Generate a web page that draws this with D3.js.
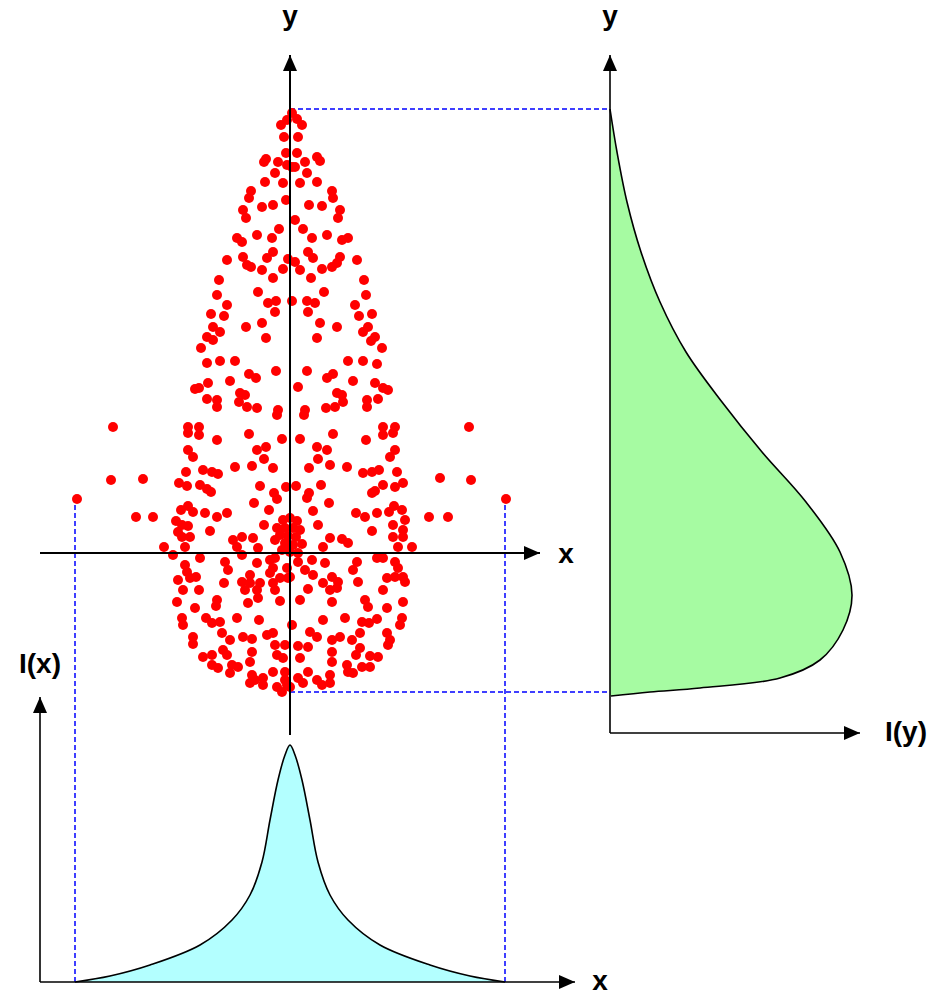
<!DOCTYPE html>
<html>
<head>
<meta charset="utf-8">
<script src="https://cdn.jsdelivr.net/npm/d3@7"></script>
<style>
  body { margin: 0; background: #fff; }
  text { font-family: "Liberation Sans", Arial, sans-serif; font-weight: bold; font-size: 28px; fill: #000; }
</style>
</head>
<body>
<svg id="chart" width="936" height="995"></svg>
<script>
// Scattered particle positions (x, y) in sample units
const dots = [
  [2,579],[7,573],[-3,572],[-9,567],[12,567],[-6,555],[8,555],[-4,539],[7,539],
  [-24,533],[-26,530],[27,535],[30,531],[-12,530],[15,530],[-3,527],[2,525],[5,525],
  [-15,519],[17,519],[-25,510],[-7,509],[10,509],[27,510],[-39,501],[-41,494],[42,501],[43,494],
  [-4,492],[-28,485],[-17,487],[19,487],[32,486],[-47,482],[-44,474],[50,482],[48,474],[5,472],
  [-11,463],[13,463],[-33,457],[37,457],[-53,454],[-48,450],[-18,454],[22,454],[52,452],[58,454],
  [-17,440],[18,440],[-63,432],[-47,435],[-23,434],[-2,433],[23,434],[50,435],[67,432],
  [-43,427],[-39,425],[-28,422],[-7,423],[5,430],[10,422],[32,423],[42,425],[47,429],
  [-17,414],[21,414],[-71,412],[74,412],[-32,400],[34,400],[-73,397],[76,397],
  [-63,387],[-22,389],[-14,391],[2,391],[17,391],[25,389],[65,387],
  [-79,378],[-66,376],[-15,380],[18,380],[69,376],[82,378],
  [-44,365],[-28,369],[-77,365],[-70,360],[30,369],[47,365],[78,365],[73,360],
  [-83,355],[-77,352],[-24,354],[27,354],[85,355],[81,351],[-89,344],[92,344],
  [-83,329],[-70,331],[-55,331],[58,331],[73,331],[87,328],
  [-41,318],[-34,314],[-14,321],[17,321],[37,314],[43,318],
  [-82,309],[-60,311],[63,311],[85,309],
  [-95,303],[-91,304],[-50,299],[-45,297],[8,305],[47,299],[52,297],[93,304],[98,302],
  [-83,293],[-73,292],[-51,290],[-73,285],[-43,285],[-33,284],[36,284],[45,285],[53,290],
  [77,292],[88,293],[77,285],[-12,282],[15,282],
  [-177,265],[-179,212],[-147,213],[-213,193],
  [-102,265],[-102,259],[-91,265],[-91,257],[-73,252],[-102,242],[-97,235],
  [-104,220],[-87,222],[-78,220],[-72,218],[-55,225],[-38,226],[-41,258],[-33,242],
  [-111,209],[-103,206],[-90,207],[-83,203],[-79,200],[-36,189],
  [-154,175],[-137,175],[-109,182],[-102,186],[-97,180],[-85,179],[-73,175],[-63,179],
  [-114,171],[-108,167],[-102,166],[-112,160],[-108,155],[-100,155],[-80,161],
  [-126,145],[-105,145],[-57,152],[-48,155],[-37,154],[-53,145],
  [-13,277],[14,277],[179,265],[93,265],[105,265],[93,257],[103,259],
  [-8,253],[10,253],[43,258],[76,252],[-24,245],[27,245],[37,242],[105,242],[100,235],
  [-26,233],[28,233],[-17,224],[19,224],[40,227],[57,225],[73,219],[82,220],[89,222],[107,220],
  [150,214],[181,212],
  [-30,206],[-4,205],[6,206],[31,207],[-16,199],[-13,193],[19,199],[17,194],
  [93,207],[85,201],[82,199],[105,205],[113,209],[216,193],
  [-21,182],[23,181],[39,189],[66,179],[75,175],[87,179],[99,180],[104,186],[112,182],
  [139,175],[158,175],
  [-26,167],[-13,164],[28,167],[82,161],[103,167],[115,172],[113,162],
  [40,154],[52,153],[58,149],[103,155],[113,155],[108,145],[122,145],
  [-7,172],[0,174],[7,171],[-5,164],[3,164],[10,162],[-10,157],[-2,156],[6,155],
  [-15,152],[-5,149],[3,147],[12,148],[0,140],[-8,142],[8,139],
  [-117,137],[-90,134],[-65,130],[-48,137],[-32,144],[-33,129],[-20,132],[-15,134],
  [-105,127],[-103,120],[-62,122],[-17,124],[-40,117],
  [-112,112],[-100,114],[-94,115],[-66,109],[-48,110],[-40,109],[-30,109],[-20,119],[-10,114],[-17,109],
  [-107,102],[-91,102],[-45,102],[-33,102],[-15,102],[-2,114],
  [-113,90],[-95,84],[-73,92],[-74,86],[-42,89],[-32,94],[-10,91],
  [-108,74],[-107,67],[-84,74],[-78,69],[-70,70],[-53,74],[-31,72],[2,67],
  [-97,55],[-97,48],[-68,59],[-60,52],[-47,55],[-38,53],[-23,57],[-17,59],[-15,47],[-5,47],
  [-87,35],[-78,37],[-67,42],[-63,37],[-38,40],[-40,30],[-13,37],
  [-78,27],[-72,24],[-58,27],[-52,25],[-60,19],[-17,20],[-5,20],
  [-38,17],[-35,12],[-27,14],[-40,9],[-27,7],[-13,5],[0,5],[-8,0],[-5,12],
  [0,145],[33,145],
  [8,130],[22,132],[35,129],[67,130],[87,134],[93,134],[105,130],[108,124],
  [-3,124],[15,122],[23,117],[42,115],[63,122],[0,115],
  [33,109],[48,110],[68,110],[97,114],[105,115],[113,115],[115,110],
  [18,103],[40,102],[47,104],[93,102],
  [10,92],[42,90],[75,92],[78,85],[97,84],[113,90],
  [33,72],[55,74],[72,70],[79,69],[87,73],[112,74],[110,67],
  [20,60],[27,55],[50,55],[42,52],[62,52],[70,59],[97,59],[100,52],[98,47],
  [8,46],[18,45],[42,40],[70,44],[66,37],[80,36],[88,35],[10,34],[-7,34],
  [42,30],[57,27],[72,25],[80,25],[18,20],[58,20],[63,19],
  [8,14],[27,12],[40,17],[13,9],[32,7],[40,9],[-3,7]
];

// Horizontal intensity profile I(x)
const profileXPos = [-215,-180,-140,-90,-58,-40,-28,-20,-12,-5,0,5,12,20,28,40,58,90,140,180,215];
const profileXInt = [0,6,17,37,62,87,120,162,202,227,237,227,202,162,120,87,62,37,17,6,0];

// Vertical intensity profile I(y)
const profileYPos = [583,540,490,440,390,340,290,240,190,140,97,62,32,14,4,0,-4];
const profileYInt = [0,7,17,31,50,76,112,152,196,230,242,233,210,170,90,40,1];

// Axis labels
const labels = { sx: "x", sy: "y", ry: "y", rx: "I(y)", by: "I(x)", bx: "x" };

const svg = d3.select("#chart");

// Shared scales
const x = d3.scaleLinear().domain([-216, 216]).range([74, 506]);
const y = d3.scaleLinear().domain([0, 583]).range([692, 109]);
const iy = d3.scaleLinear().domain([0, 250]).range([610, 860]);  // right panel intensity
const ix = d3.scaleLinear().domain([0, 285]).range([982, 697]);  // bottom panel intensity

const defs = svg.append("defs");
defs.append("filter").attr("id", "soft")
  .append("feGaussianBlur").attr("stdDeviation", 0.55);

// Arrow drawn as a line with a filled triangular head at (x2, y2)
function arrow(x1, y1, x2, y2, w) {
  svg.append("line")
    .attr("x1", x1).attr("y1", y1).attr("x2", x2).attr("y2", y2)
    .attr("stroke", "#000").attr("stroke-width", w);
  const ang = Math.atan2(y2 - y1, x2 - x1);
  const L = 16, H = 7;
  const bx = x2 - L * Math.cos(ang), by = y2 - L * Math.sin(ang);
  const px = -Math.sin(ang) * H, py = Math.cos(ang) * H;
  svg.append("path")
    .attr("d", `M${x2},${y2}L${bx + px},${by + py}L${bx - px},${by - py}Z`)
    .attr("fill", "#000");
}

// Profile areas
const curve = d3.curveCatmullRom.alpha(0.5);
const areaX = d3.area()
  .x((d, i) => x(profileXPos[i]))
  .y0(ix(0))
  .y1((d, i) => ix(profileXInt[i]))
  .curve(curve);
svg.append("path").attr("d", areaX(profileXPos))
  .attr("fill", "#b3ffff").attr("stroke", "none");
svg.append("path")
  .attr("d", d3.line().x((d, i) => x(profileXPos[i])).y((d, i) => ix(profileXInt[i])).curve(curve)(profileXPos))
  .attr("fill", "none").attr("stroke", "#000").attr("stroke-width", 1.6);

const areaY = d3.area()
  .y((d, i) => y(profileYPos[i]))
  .x0(iy(0))
  .x1((d, i) => iy(profileYInt[i]))
  .curve(curve);
svg.append("path").attr("d", areaY(profileYPos))
  .attr("fill", "#a6fba2").attr("stroke", "none");
svg.append("path")
  .attr("d", d3.line().y((d, i) => y(profileYPos[i])).x((d, i) => iy(profileYInt[i])).curve(curve)(profileYPos))
  .attr("fill", "none").attr("stroke", "#000").attr("stroke-width", 1.6);

// Blue dashed projection guides
const guide = (x1, y1, x2, y2) => svg.append("line")
  .attr("x1", x1).attr("y1", y1).attr("x2", x2).attr("y2", y2)
  .attr("stroke", "#0000ff").attr("stroke-width", 1.5).attr("stroke-dasharray", "5,3");
guide(x(0), y(583), iy(0), y(583));
guide(x(0), y(0), iy(0), y(0));
guide(x(-215), y(187), x(-215), ix(0));
guide(x(215), y(187), x(215), ix(0));

// Scatter points
svg.append("g").attr("filter", "url(#soft)")
  .selectAll("circle").data(dots).join("circle")
  .attr("cx", d => x(d[0])).attr("cy", d => y(d[1]))
  .attr("r", 5).attr("fill", "#ff0000");

// Scatter axes
arrow(x(-250), y(139), x(250), y(139), 2);
arrow(x(0), y(-43), x(0), y(637), 2);
svg.append("text").attr("x", x(250) + 26).attr("y", y(139) + 10).attr("text-anchor", "middle").text(labels.sx);
svg.append("text").attr("x", x(0)).attr("y", 25).attr("text-anchor", "middle").text(labels.sy);

// Right panel axes
arrow(iy(0), y(-41), iy(0), y(637), 1.6);
arrow(iy(0), y(-41), iy(250), y(-41), 1.6);
svg.append("text").attr("x", iy(0)).attr("y", 25).attr("text-anchor", "middle").text(labels.ry);
svg.append("text").attr("x", iy(250) + 46).attr("y", y(-41) + 8).attr("text-anchor", "middle").text(labels.rx);

// Bottom panel axes
arrow(x(-250), ix(0), x(-250), ix(285), 1.6);
arrow(x(-250), ix(0), x(285), ix(0), 1.6);
svg.append("text").attr("x", x(-250)).attr("y", 673).attr("text-anchor", "middle").text(labels.by);
svg.append("text").attr("x", x(285) + 25).attr("y", 990).attr("text-anchor", "middle").text(labels.bx);
</script>
</body>
</html>
